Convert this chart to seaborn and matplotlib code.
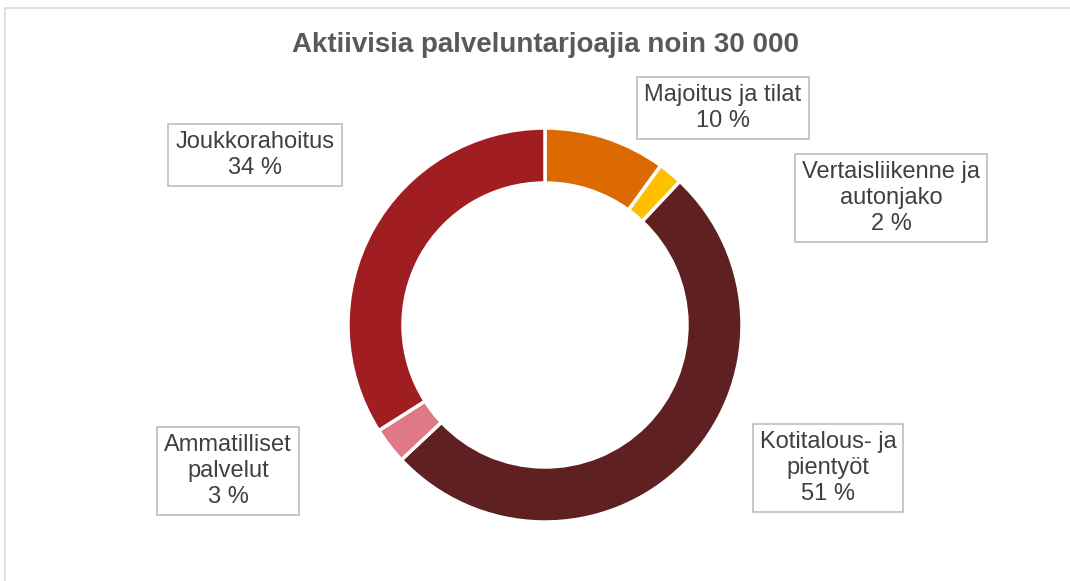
import matplotlib
matplotlib.use("Agg")
import matplotlib.pyplot as plt
import seaborn as sns
from matplotlib.lines import Line2D

sns.set_theme(style="white")
plt.rcParams['font.family'] = ['Liberation Sans', 'DejaVu Sans']

title = "Aktiivisia palveluntarjoajia noin 30 000"
categories = ["Majoitus ja tilat", "Vertaisliikenne ja\nautonjako", "Kotitalous- ja\npientyöt",
              "Ammatilliset\npalvelut", "Joukkorahoitus"]
values = [10, 2, 51, 3, 34]
colors = ["#DD6A00", "#FFC000", "#5E2020", "#E07888", "#A01E22"]

W, H = 1070, 581
fig = plt.figure(figsize=(W / 100, H / 100), dpi=100)
ax = fig.add_axes([0, 0, 1, 1])

# chart border (top and left visible)
fig.add_artist(Line2D([5 / W, 5 / W], [0, 1 - 8 / H], transform=fig.transFigure, color="#D9D9D9", lw=1.2))
fig.add_artist(Line2D([5 / W, 1], [1 - 8 / H, 1 - 8 / H], transform=fig.transFigure, color="#D9D9D9", lw=1.2))

cx, cy, R = 545, H - 325, 197
wedges, _ = ax.pie(values, colors=colors, startangle=90, counterclock=False,
                   center=(cx, cy), radius=R, frame=True,
                   wedgeprops=dict(width=55, edgecolor="white", linewidth=2.5))
ax.set_xlim(0, W)
ax.set_ylim(0, H)
ax.set_aspect('equal')
ax.axis('off')

ax.text(cx, H - 45, title, ha='center', va='center', fontsize=20, fontweight='bold', color="#595959")

label_pos = [(723, 108), (891, 198), (828, 468), (228, 471), (255, 155)]
for cat, v, (x, y) in zip(categories, values, label_pos):
    ax.text(x, H - y, f"{cat}\n{v} %", ha='center', va='center', fontsize=17, color="#404040",
            linespacing=1.25,
            bbox=dict(boxstyle='square,pad=0.3', facecolor='white', edgecolor='#BFBFBF', linewidth=1.2))

fig.savefig("out.png", dpi=100)
